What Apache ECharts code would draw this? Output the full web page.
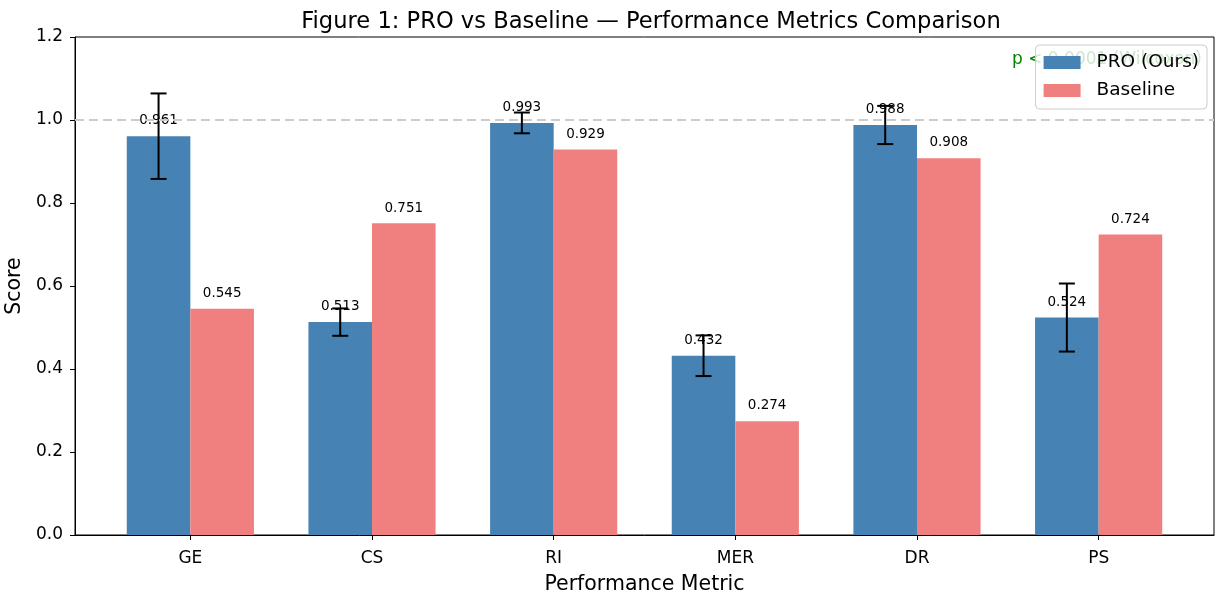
<!DOCTYPE html>
<html>
<head>
<meta charset="utf-8">
<script src="https://cdn.jsdelivr.net/npm/echarts@6/dist/echarts.min.js"></script>
<style>
  html, body { margin: 0; padding: 0; background: #fff; }
  #chart { width: 1215px; height: 595px; }
</style>
</head>
<body>
<div id="chart"></div>
<script>
// Metric categories and per-method scores
const categories = ['GE', 'CS', 'RI', 'MER', 'DR', 'PS'];
const proScores = [0.961, 0.513, 0.993, 0.432, 0.988, 0.524];
const proErrors = [0.103, 0.033, 0.025, 0.049, 0.046, 0.082];
const baselineScores = [0.545, 0.751, 0.929, 0.274, 0.908, 0.724];
const yTicks = [0, 0.2, 0.4, 0.6, 0.8, 1.0, 1.2];

const PRO_COLOR = '#4682B4';
const BASE_COLOR = '#F08080';
const BAR_W = 0.35;
const FONT = 'DejaVu Sans, sans-serif';

const chart = echarts.init(document.getElementById('chart'));

// Bar drawn as a rectangle spanning [x0, x0 + BAR_W] in data units
function barItem(offset, color) {
  return function (params, api) {
    const i = api.value(0);
    const v = api.value(1);
    const p0 = api.coord([i + offset, 0]);
    const p1 = api.coord([i + offset + BAR_W, v]);
    return {
      type: 'rect',
      shape: { x: p0[0], y: p1[1], width: p1[0] - p0[0], height: p0[1] - p1[1] },
      style: { fill: color }
    };
  };
}

// Value label centred over each bar
function labelItem(offset) {
  return function (params, api) {
    const i = api.value(0);
    const v = api.value(1);
    const p = api.coord([i + offset + BAR_W / 2, v + 0.02]);
    return {
      type: 'text',
      x: p[0], y: p[1],
      style: {
        text: v.toFixed(3),
        fill: '#000',
        font: '13.5px ' + FONT,
        align: 'center',
        verticalAlign: 'bottom'
      }
    };
  };
}

// Symmetric error bar with caps
function errorItem(params, api) {
  const i = api.value(0);
  const v = api.value(1);
  const e = api.value(2);
  const x = i - BAR_W / 2;
  const top = api.coord([x, v + e]);
  const bot = api.coord([x, v - e]);
  const cap = 8;
  const style = { stroke: '#000', lineWidth: 2 };
  return {
    type: 'group',
    children: [
      { type: 'line', shape: { x1: top[0], y1: top[1], x2: bot[0], y2: bot[1] }, style },
      { type: 'line', shape: { x1: top[0] - cap, y1: top[1], x2: top[0] + cap, y2: top[1] }, style },
      { type: 'line', shape: { x1: bot[0] - cap, y1: bot[1], x2: bot[0] + cap, y2: bot[1] }, style }
    ]
  };
}

const proData = proScores.map((v, i) => [i, v]);
const baseData = baselineScores.map((v, i) => [i, v]);
const errData = proScores.map((v, i) => [i, v, proErrors[i]]);
const tickIdx = categories.map((c, i) => i);

chart.setOption({
  animation: false,
  title: {
    text: 'Figure 1: PRO vs Baseline — Performance Metrics Comparison',
    left: 646, top: 6, textAlign: 'center',
    textStyle: { fontFamily: FONT, fontSize: 22.6, fontWeight: 'normal', color: '#000' }
  },
  grid: {
    left: 75, right: 1, top: 37, bottom: 60,
    outerBoundsMode: 'none', containLabel: false,
    show: true, borderColor: '#000', borderWidth: 1, backgroundColor: 'transparent'
  },
  legend: {
    orient: 'vertical',
    right: 8, top: 45,
    itemWidth: 37, itemHeight: 13, itemGap: 9,
    padding: [8, 8, 9, 8],
    backgroundColor: 'rgba(255,255,255,0.8)',
    borderColor: '#cccccc', borderWidth: 1, borderRadius: 4,
    textStyle: { fontFamily: FONT, fontSize: 18.5, color: '#000', padding: [0, 0, 0, 11] },
    data: [
      { name: 'PRO (Ours)', icon: 'rect', itemStyle: { color: PRO_COLOR } },
      { name: 'Baseline', icon: 'rect', itemStyle: { color: BASE_COLOR } }
    ],
    selectedMode: false
  },
  graphic: [{
    type: 'text', left: 1012, top: 51, z: 0,
    style: { text: 'p < 0.0001 (Wilcoxon)', fill: '#008000', font: '17px ' + FONT }
  }],
  xAxis: {
    type: 'value', min: -0.635, max: 5.635,
    name: 'Performance Metric', nameLocation: 'middle', nameGap: 39,
    nameTextStyle: { fontFamily: FONT, fontSize: 20.5, color: '#000' },
    axisLine: { show: true, onZero: false, lineStyle: { color: '#000' } },
    axisTick: { show: true, inside: false, length: 5, customValues: tickIdx, lineStyle: { color: '#000' } },
    axisLabel: {
      customValues: tickIdx, margin: 15,
      formatter: v => categories[Math.round(v)],
      fontFamily: FONT, fontSize: 17, color: '#000'
    },
    splitLine: { show: false }
  },
  yAxis: {
    type: 'value', min: 0, max: 1.2, interval: 0.2,
    name: 'Score', nameLocation: 'middle', nameGap: 42,
    nameTextStyle: { fontFamily: FONT, fontSize: 20.5, color: '#000' },
    axisLine: { show: true, onZero: false, lineStyle: { color: '#000' } },
    axisTick: { show: true, inside: false, length: 5, lineStyle: { color: '#000' } },
    axisLabel: {
      customValues: yTicks, margin: 12, padding: [4, 0, 0, 0],
      formatter: v => v.toFixed(1),
      fontFamily: FONT, fontSize: 17, color: '#000'
    },
    splitLine: { show: false }
  },
  series: [
    {
      name: 'PRO (Ours)', type: 'custom', z: 2,
      renderItem: barItem(-BAR_W, PRO_COLOR), data: proData,
      itemStyle: { color: PRO_COLOR },
      markLine: {
        silent: true, symbol: 'none', label: { show: false },
        lineStyle: { color: '#cccccc', type: [9, 5], width: 2.2 },
        data: [{ yAxis: 1.0 }]
      }
    },
    {
      name: 'Baseline', type: 'custom', z: 2,
      renderItem: barItem(0, BASE_COLOR), data: baseData,
      itemStyle: { color: BASE_COLOR }
    },
    { type: 'custom', z: 3, renderItem: labelItem(-BAR_W), data: proData, silent: true },
    { type: 'custom', z: 3, renderItem: labelItem(0), data: baseData, silent: true },
    { type: 'custom', z: 4, renderItem: errorItem, data: errData, silent: true }
  ]
});
</script>
</body>
</html>
